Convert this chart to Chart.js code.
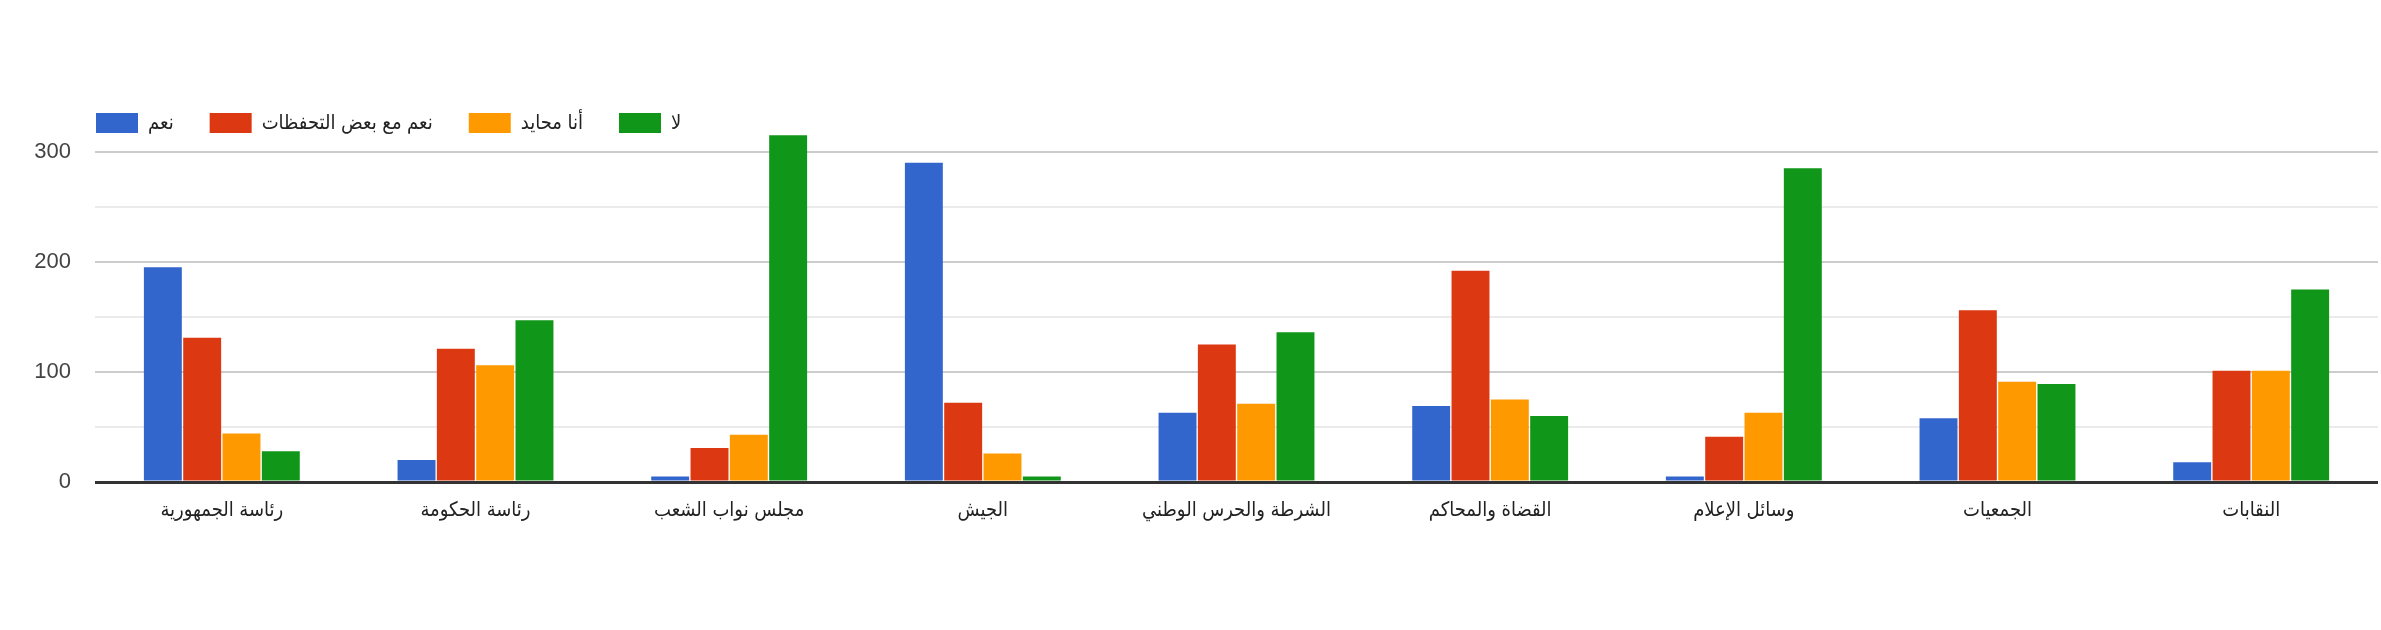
<!DOCTYPE html>
<html>
<head>
<meta charset="utf-8">
<script src="https://cdn.jsdelivr.net/npm/chart.js@4"></script>
<style>
  html, body { margin: 0; padding: 0; background: #fff; }
</style>
</head>
<body>
<canvas id="chart" width="2381" height="630"></canvas>
<script>
// categories (left to right)
const categories = [
    "رئاسة الجمهورية",
    "رئاسة الحكومة",
    "مجلس نواب الشعب",
    "الجيش",
    "الشرطة والحرس الوطني",
    "القضاة والمحاكم",
    "وسائل الإعلام",
    "الجمعيات",
    "النقابات"
];

const seriesNames = ["نعم", "نعم مع بعض التحفظات", "أنا محايد", "لا"];

// values
const naam       = [195, 20, 5, 290, 63, 69, 5, 58, 18];
const tahaffodh  = [131, 121, 31, 72, 125, 192, 41, 156, 101];
const mohayed    = [44, 106, 43, 26, 71, 75, 63, 91, 101];
const la         = [28, 147, 315, 5, 136, 60, 285, 89, 175];

const yTicks = [0, 50, 100, 150, 200, 250, 300];

const colors = ["#3366cc", "#dc3912", "#ff9900", "#109618"];
const fontFam = "Arial, 'Liberation Sans', 'DejaVu Sans Condensed', 'DejaVu Sans', sans-serif";

const values = [naam, tahaffodh, mohayed, la];
const datasets = values.map((v, i) => ({
    label: seriesNames[i],
    data: v,
    backgroundColor: colors[i],
    borderWidth: 0,
    categoryPercentage: 0.62,
    barPercentage: 0.965,
    clip: false
}));

// move the legend to the right so it starts above the plot
const legendShift = {
    id: "legendShift",
    afterLayout(chart) {
        const l = chart.legend;
        l.left += 60;
        l.right += 60;
        if (l.adjustHitBoxes) l.adjustHitBoxes();
    }
};

const ctx = document.getElementById("chart").getContext("2d");
new Chart(ctx, {
    type: "bar",
    data: { labels: categories, datasets },
    plugins: [legendShift],
    options: {
        responsive: false,
        maintainAspectRatio: false,
        animation: false,
        devicePixelRatio: 1,
        layout: { padding: { top: 77, left: 0, right: 3, bottom: 0 } },
        plugins: {
            tooltip: { enabled: false },
            legend: {
                position: "top",
                align: "start",
                labels: {
                    boxWidth: 42,
                    boxHeight: 20,
                    padding: 36,
                    color: "#222",
                    font: { family: fontFam, size: 20 }
                }
            }
        },
        scales: {
            x: {
                grid: { display: false, drawTicks: false },
                border: { display: false },
                ticks: {
                    color: "#222",
                    padding: 16,
                    maxRotation: 0,
                    autoSkip: false,
                    font: { family: fontFam, size: 20 }
                },
                afterFit(scale) { scale.height = 148; }
            },
            y: {
                min: 0,
                max: 308,
                afterBuildTicks(scale) {
                    scale.ticks = yTicks.map(v => ({ value: v }));
                },
                grid: {
                    drawTicks: false,
                    color: c => c.tick.value === 0 ? "#333" : (c.tick.value % 100 === 0 ? "#cccccc" : "#ebebeb"),
                    lineWidth: c => c.tick.value === 0 ? 3 : 2
                },
                border: { display: false },
                ticks: {
                    color: "#444",
                    padding: 24,
                    font: { family: fontFam, size: 22 },
                    callback: (v) => (v % 100 === 0 ? v : "")
                },
                afterFit(scale) { scale.width = 95; }
            }
        }
    }
});
</script>
</body>
</html>
